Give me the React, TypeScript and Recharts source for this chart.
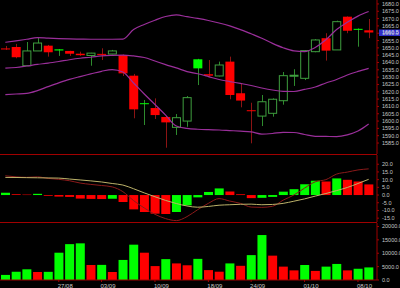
import React from "react";
import { ComposedChart, Bar, Line, XAxis, YAxis, ReferenceLine, Cell } from "recharts";

const dates = [
  "20/08", "21/08", "22/08", "23/08", "24/08", "27/08", "28/08", "29/08", "30/08",
  "03/09", "04/09", "05/09", "06/09", "07/09", "10/09", "11/09", "12/09", "13/09", "14/09",
  "18/09", "19/09", "20/09", "21/09", "24/09", "25/09", "26/09", "27/09", "28/09",
  "01/10", "02/10", "03/10", "04/10", "05/10", "08/10", "09/10",
];
const dateTicks = ["27/08", "03/09", "10/09", "18/09", "24/09", "01/10", "08/10"];

const opens = [
  1649.6, 1650.6, 1637.8, 1647.9, 1651.5, 1649.0, 1647.9, 1646.0, 1644.8, 1645.9, 1645.8, 1645.1,
  1631.0, 1612.2, 1608.9, 1602.8, 1595.7, 1600.0, 1642.2, 1632.0, 1630.8, 1640.6, 1619.0, 1607.4,
  1603.4, 1605.3, 1613.9, 1631.1, 1629.2, 1647.4, 1656.6, 1648.6, 1671.3, 1663.0, 1662.0,
];
const highs = [
  1651.3, 1652.7, 1654.0, 1656.8, 1652.0, 1649.2, 1648.0, 1647.4, 1646.6, 1649.7, 1648.6, 1645.5,
  1632.2, 1614.4, 1615.5, 1603.5, 1604.8, 1617.1, 1642.5, 1641.7, 1640.6, 1644.0, 1625.8, 1612.5,
  1617.8, 1615.5, 1633.5, 1635.4, 1648.5, 1656.0, 1660.0, 1668.6, 1671.5, 1663.3, 1669.7,
];
const lows = [
  1648.6, 1642.9, 1637.8, 1647.9, 1644.0, 1644.5, 1644.5, 1644.5, 1637.8, 1641.7, 1645.6, 1630.8,
  1601.9, 1597.3, 1601.4, 1581.8, 1590.5, 1596.1, 1624.6, 1630.0, 1630.5, 1614.9, 1609.4, 1584.8,
  1596.6, 1603.0, 1611.2, 1624.0, 1628.0, 1647.0, 1641.3, 1648.6, 1660.0, 1650.8, 1656.6,
];
const closes = [
  1649.3, 1643.6, 1647.9, 1653.3, 1647.0, 1648.2, 1646.0, 1645.0, 1646.4, 1645.7, 1647.9, 1632.6,
  1608.0, 1611.6, 1604.1, 1599.1, 1602.3, 1616.0, 1636.0, 1631.0, 1638.3, 1617.8, 1614.0, 1607.0,
  1613.2, 1614.9, 1631.0, 1631.3, 1648.1, 1655.4, 1648.1, 1667.9, 1661.7, 1662.5, 1660.5,
];

const bbUpper = [
  1653.8, 1654.8, 1655.9, 1657.0, 1656.6, 1656.3, 1656.1, 1656.0, 1655.9, 1655.9, 1655.9, 1656.0,
  1662.5, 1666.0, 1668.9, 1671.4, 1672.5, 1671.3, 1670.1, 1668.7, 1667.0, 1665.0, 1662.5, 1659.6,
  1656.6, 1653.1, 1650.1, 1648.0, 1647.5, 1650.3, 1655.5, 1662.5, 1667.5, 1671.7, 1674.8,
];
const bbMiddle = [
  1636.1, 1636.6, 1637.6, 1638.7, 1639.6, 1640.7, 1641.9, 1642.9, 1643.6, 1644.5, 1644.9, 1645.1,
  1644.5, 1643.4, 1641.0, 1638.6, 1636.3, 1633.8, 1632.3, 1630.4, 1628.4, 1627.0, 1625.7, 1624.3,
  1622.6, 1621.2, 1620.3, 1620.2, 1621.6, 1623.3, 1626.0, 1628.4, 1631.5, 1633.9, 1636.0,
];
const bbLower = [
  1618.1, 1618.5, 1618.9, 1620.8, 1623.5, 1626.1, 1628.5, 1630.4, 1632.2, 1634.0, 1635.2, 1633.5,
  1626.0, 1618.5, 1611.3, 1604.1, 1596.6, 1595.0, 1594.4, 1594.1, 1593.9, 1593.5, 1593.1, 1592.6,
  1591.1, 1591.5, 1592.3, 1592.2, 1590.8, 1589.6, 1589.5, 1589.4, 1590.6, 1593.2, 1598.0,
];

const macdLine = [
  12.5, 11.8, 11.5, 11.8, 10.8, 10.2, 9.3, 7.8, 6.9, 6.2, 5.3, 2.2, -3.6, -8.4, -12.5, -15.3, -16.6,
  -14.0, -9.5, -5.4, -2.3, -3.9, -5.4, -7.8, -8.0, -7.3, -3.3, 0.0, 4.5, 8.6, 10.0, 13.6, 14.9, 16.3, 17.0,
];
const signalLine = [
  11.45, 11.4, 11.3, 11.2, 11.1, 11.0, 10.4, 9.8, 9.2, 8.5, 7.5, 6.5, 4.1, 1.4, -1.1, -3.5, -5.5,
  -7.1, -7.9, -7.4, -6.6, -6.3, -6.0, -5.9, -6.3, -6.1, -5.4, -4.0, -2.5, -0.7, 1.0, 2.9, 4.9, 7.5, 10.2,
];
const macdHist = [
  1.5, 0.5, 0.3, 0.8, -0.5, -1.0, -1.2, -2.3, -2.5, -2.6, -2.4, -4.5, -9.3, -11.0, -12.1, -12.3, -11.0,
  -6.7, -1.5, 2.0, 4.3, 2.3, 0.5, -2.0, -1.8, -1.2, 2.2, 3.8, 7.0, 9.3, 8.8, 10.8, 9.9, 8.8, 6.9,
];

const volumes = [
  1900, 3100, 4000, 3000, 3050, 10200, 13400, 13700, 5600, 5650, 3000, 7500, 13200, 10200, 5200,
  7800, 6200, 5500, 7900, 3700, 3100, 6200, 5300, 9300, 16800, 9100, 5000, 3600, 5600, 3400, 5000,
  6000, 3600, 4200, 4700,
];

const priceTicks = [
  1680, 1675, 1670, 1665, 1660, 1655, 1650, 1645, 1640, 1635, 1630, 1625, 1620, 1615, 1610, 1605,
  1600, 1595, 1590, 1585,
];
const macdTicks = [20, 15, 10, 5, 0, -5, -10, -15];
const volumeTicks = [0, 5000, 10000, 15000, 20000];

const RED = "#ff0000";
const GREEN = "#00ff00";
const HOLLOW = "#3f9f3f";
const AXIS = "#a00000";
const BAND = "#9a2f9a";
const tickStyle = { fill: "#c8c8c8", fontSize: 5.5, fontFamily: "Liberation Sans" };

const rows = dates.map((date, i) => ({
  date,
  open: opens[i],
  high: highs[i],
  low: lows[i],
  close: closes[i],
  prevClose: i > 0 ? closes[i - 1] : opens[i],
  range: [lows[i], highs[i]],
  upper: bbUpper[i],
  middle: bbMiddle[i],
  lower: bbLower[i],
  macd: macdLine[i],
  signal: signalLine[i],
  hist: macdHist[i],
  volume: volumes[i],
}));

const lastClose = closes[closes.length - 1];

function Candle(props: any) {
  const { x, y, width, height, payload } = props;
  const { open, close, high, low, prevClose } = payload;
  const top = Math.min(y, y + height);
  const k = Math.abs(height) / (high - low || 1);
  const yOf = (v: number) => top + (high - v) * k;
  const cx = Math.round(x + width / 2) + 0.5;
  const hollow = close > open;
  const green = hollow || close >= prevClose;
  const bTop = yOf(Math.max(open, close));
  const bH = Math.max(1, yOf(Math.min(open, close)) - bTop);
  return (
    <g>
      <line x1={cx} x2={cx} y1={yOf(high)} y2={yOf(low)} stroke={green ? "#2e8b2e" : "#8c1414"} />
      {hollow ? (
        <rect x={x + 0.5} y={bTop} width={width - 1} height={bH} fill="#000" stroke={HOLLOW} />
      ) : (
        <rect x={x} y={bTop} width={width} height={bH} fill={green ? GREEN : RED} />
      )}
    </g>
  );
}

function LastPrice(props: any) {
  const { viewBox } = props;
  const bx = viewBox.x + viewBox.width + 2;
  return (
    <g>
      <rect x={bx} y={viewBox.y - 3} width={22} height={6.5} fill="#2f2fc8" />
      <text x={bx + 3} y={viewBox.y + 2} fontSize={5.5} fontFamily="Liberation Sans" fill="#d8d8ff">
        {lastClose.toFixed(1)}
      </text>
    </g>
  );
}

function DateTick(props: any) {
  const { x, y, payload } = props;
  return (
    <text x={x - 1} y={y + 3.5} fontSize={6} fontFamily="Liberation Sans" fill="#c8c8c8">
      {payload.value}
    </text>
  );
}

const yAxisProps = {
  orientation: "right" as const,
  width: 23,
  axisLine: { stroke: AXIS },
  tickLine: { stroke: AXIS },
  tickSize: 2,
  tickMargin: 3,
  tick: tickStyle,
  interval: 0 as const,
  tickFormatter: (v: number) => v.toFixed(1),
};

const lineProps = { dot: false, activeDot: false, isAnimationActive: false } as const;

export default function App() {
  return (
    <div style={{ position: "fixed", left: 0, top: 0, width: 400, height: 288, background: "#000" }}>
      <div style={{ position: "absolute", left: 0, top: 0 }}>
        <ComposedChart width={400} height={154} data={rows} margin={{ top: 0, right: 0, bottom: 0, left: 0 }}>
          <XAxis dataKey="date" hide padding={{ left: 0, right: 3 }} />
          <YAxis {...yAxisProps} domain={[1577.5, 1682.7]} ticks={priceTicks} />
          <Line type="monotone" dataKey="upper" stroke={BAND} strokeWidth={1.2} {...lineProps} />
          <Line type="monotone" dataKey="middle" stroke={BAND} strokeWidth={1.2} {...lineProps} />
          <Line type="monotone" dataKey="lower" stroke={BAND} strokeWidth={1.2} {...lineProps} />
          <Bar dataKey="range" barSize={9} shape={<Candle />} isAnimationActive={false} />
          <ReferenceLine y={lastClose} stroke="none" label={<LastPrice />} />
        </ComposedChart>
      </div>
      <div style={{ position: "absolute", left: 0, top: 154, width: 377, height: 1, background: AXIS }} />
      <div style={{ position: "absolute", left: 0, top: 155 }}>
        <ComposedChart width={400} height={67} data={rows} margin={{ top: 0, right: 0, bottom: 0, left: 0 }}>
          <XAxis dataKey="date" hide padding={{ left: 0, right: 3 }} />
          <YAxis {...yAxisProps} domain={[-17.5, 26]} ticks={macdTicks} />
          <Bar dataKey="hist" barSize={9} isAnimationActive={false}>
            {rows.map((r, i) => (
              <Cell key={i} fill={i > 0 && r.hist < macdHist[i - 1] ? RED : GREEN} />
            ))}
          </Bar>
          <Line type="monotone" dataKey="macd" stroke="#8b1a1a" strokeWidth={1} {...lineProps} />
          <Line type="monotone" dataKey="signal" stroke="#bdb36a" strokeWidth={1} {...lineProps} />
        </ComposedChart>
      </div>
      <div style={{ position: "absolute", left: 0, top: 222, width: 377, height: 1, background: AXIS }} />
      <div style={{ position: "absolute", left: 0, top: 223 }}>
        <ComposedChart width={400} height={65} data={rows} margin={{ top: 0, right: 0, bottom: 0, left: 0 }}>
          <XAxis
            dataKey="date"
            height={8}
            padding={{ left: 0, right: 3 }}
            ticks={dateTicks}
            interval={0}
            axisLine={{ stroke: AXIS }}
            tickLine={{ stroke: AXIS }}
            tickSize={2}
            tick={<DateTick />}
          />
          <YAxis {...yAxisProps} domain={[0, 21300]} ticks={volumeTicks} />
          <Bar dataKey="volume" barSize={9} isAnimationActive={false}>
            {rows.map((r, i) => (
              <Cell key={i} fill={i > 0 && r.volume < volumes[i - 1] ? RED : GREEN} />
            ))}
          </Bar>
        </ComposedChart>
      </div>
    </div>
  );
}
